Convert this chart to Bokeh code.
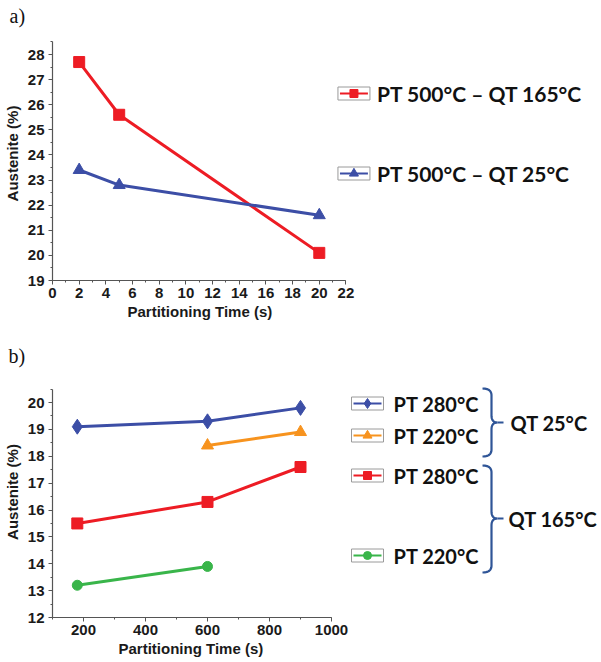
from bokeh.plotting import figure
from bokeh.layouts import column
from bokeh.models import Range1d, SingleIntervalTicker, Title
from bokeh.core.properties import value
from bokeh.embed import file_html
from bokeh.resources import INLINE

# ---------------- data: panel a ----------------
a_time = [2, 5, 20]
a_qt165 = [27.7, 25.6, 20.1]
a_qt25 = [23.4, 22.8, 21.6]
a_labels = ["PT 500°C – QT 165°C", "PT 500°C – QT 25°C"]

# ---------------- data: panel b ----------------
b_time_280_25 = [180, 600, 900]
b_pt280_qt25 = [19.1, 19.3, 19.8]
b_time_220_25 = [600, 900]
b_pt220_qt25 = [18.4, 18.9]
b_time_280_165 = [180, 600, 900]
b_pt280_qt165 = [15.5, 16.3, 17.6]
b_time_220_165 = [180, 600]
b_pt220_qt165 = [13.2, 13.9]
b_labels = ["PT 280°C", "PT 220°C", "PT 280°C", "PT 220°C"]
b_groups = ["QT 25°C", "QT 165°C"]

x_title = "Partitioning Time (s)"
y_title = "Austenite (%)"

RED = "#ed1c24"
BLUE = "#3c4ea6"
ORANGE = "#f7931e"
GREEN = "#39b54a"
BRACE = "#2f5597"
AXIS = "#555555"
TXT = "#111111"

W, H = 601, 331
TICK_FONT = "Liberation Sans"
LEG_FONT = "Lato"


def panel(x0, xpx0, xscale, y0, ypx0, yscale, page_off, frame_top, xbounds, ybounds,
          xint, yint, tag, title_offset):
    # xpx0: page px of x0 (frame left); ypx0: page px of y0 (frame bottom)
    frame_bottom = ypx0 - page_off
    ftop = frame_top - page_off
    xr = Range1d(x0, x0 + (W - xpx0) / xscale)
    yr = Range1d(y0, y0 + (frame_bottom - ftop) / yscale)
    p = figure(width=W, height=H, x_range=xr, y_range=yr,
               min_border_left=xpx0, min_border_right=0, min_border_top=ftop,
               min_border_bottom=H - frame_bottom,
               output_backend="svg", toolbar_location=None)
    p.outline_line_color = None
    p.grid.visible = False
    p.background_fill_color = "white"
    p.border_fill_color = "white"
    p.xaxis.bounds = xbounds
    p.yaxis.bounds = ybounds
    p.xaxis.ticker = SingleIntervalTicker(interval=xint, num_minor_ticks=2)
    p.yaxis.ticker = SingleIntervalTicker(interval=yint, num_minor_ticks=2)
    for ax in (p.xaxis[0], p.yaxis[0]):
        ax.axis_line_color = AXIS
        ax.axis_line_width = 1.2
        ax.major_tick_line_color = AXIS
        ax.minor_tick_line_color = AXIS
        ax.major_tick_in = 0
        ax.major_tick_out = 4
        ax.minor_tick_in = 0
        ax.minor_tick_out = 2
        ax.major_label_text_font = TICK_FONT
        ax.major_label_text_font_style = "bold"
        ax.major_label_text_font_size = "15px"
        ax.major_label_text_color = "#1a1a1a"
        ax.axis_label_text_font = TICK_FONT
        ax.axis_label_text_font_style = "bold"
        ax.axis_label_text_font_size = "15px"
        ax.axis_label_text_color = "#1a1a1a"
    p.xaxis.major_label_standoff = 3
    p.yaxis.major_label_standoff = 4
    p.yaxis.axis_label_standoff = 4
    p.yaxis.axis_label = y_title

    p.add_layout(Title(text=tag, align="left", offset=8 - xpx0, standoff=0,
                       text_font="Liberation Serif", text_font_size="20px",
                       text_font_style="normal", text_color=TXT), "above")
    p.add_layout(Title(text=x_title, align="left", offset=title_offset, standoff=0,
                       text_font=TICK_FONT, text_font_size="15px",
                       text_font_style="bold", text_color="#1a1a1a"), "below")

    def dx(px):
        return x0 + (px - xpx0) / xscale

    def dy(py):
        return y0 + (ypx0 - py) / yscale

    return p, dx, dy


def legend_sample(p, dx, dy, cx, cy, color, marker, msize):
    p.rect(x=[dx(cx)], y=[dy(cy)], width=32, height=13, width_units="screen",
           height_units="screen", fill_color="white", line_color="#9a9a9a", line_width=1)
    p.line([dx(cx - 14), dx(cx + 14)], [dy(cy), dy(cy)], line_color=color, line_width=2)
    p.scatter([dx(cx)], [dy(cy)], marker=marker, size=msize, fill_color=color, line_color=color)


def quad(pa, pc, pb, n=14):
    pts = []
    for i in range(n + 1):
        t = i / n
        x = (1 - t) ** 2 * pa[0] + 2 * (1 - t) * t * pc[0] + t ** 2 * pb[0]
        y = (1 - t) ** 2 * pa[1] + 2 * (1 - t) * t * pc[1] + t ** 2 * pb[1]
        pts.append((x, y))
    return pts


def brace(p, dx, dy, x_hook, x_mid, x_cusp, x_tip, y_top, y_tip, y_bot, r=7):
    pts = []
    pts += quad((x_hook, y_top), (x_mid, y_top), (x_mid, y_top + r))
    pts += quad((x_mid, y_tip - r), (x_mid, y_tip), (x_cusp, y_tip))
    pts += quad((x_cusp, y_tip), (x_mid, y_tip), (x_mid, y_tip + r))
    pts += quad((x_mid, y_bot - r), (x_mid, y_bot), (x_hook, y_bot))
    p.line([dx(a) for a, b in pts], [dy(b) for a, b in pts], line_color=BRACE, line_width=2.2)
    p.line([dx(x_cusp), dx(x_tip)], [dy(y_tip), dy(y_tip)], line_color=BRACE, line_width=2.2)


# ---------------- panel a ----------------
pa, ax_, ay_ = panel(0, 51, 294 / 22, 19, 280, 226 / 9, 0, 26, (0, 22), (19, 28.5), 2, 1,
                     "a)", 75)
pa.line(a_time, a_qt165, line_color=RED, line_width=3)
pa.scatter(a_time, a_qt165, marker="square", size=11, fill_color=RED, line_color=RED)
pa.line(a_time, a_qt25, line_color=BLUE, line_width=3)
pa.scatter(a_time, a_qt25, marker="triangle", size=12, fill_color=BLUE, line_color=BLUE)

legend_sample(pa, ax_, ay_, 353, 93, RED, "square", 8)
legend_sample(pa, ax_, ay_, 353, 173, BLUE, "triangle", 9)
pa.text(x=[ax_(376), ax_(376)], y=[ay_(93), ay_(173)], text=a_labels,
        text_font=value(LEG_FONT), text_font_style="bold", text_font_size="21px",
        text_baseline="middle", text_align="left", text_color=TXT)

# ---------------- panel b ----------------
pb, bx_, by_ = panel(100, 52, 279 / 900, 12, 617, 215 / 8, 331, 366, (100, 1000), (12, 20.5),
                     200, 1, "b)", 66)
pb.line(b_time_280_25, b_pt280_qt25, line_color=BLUE, line_width=3)
pb.scatter(b_time_280_25, b_pt280_qt25, marker="diamond", size=15, fill_color=BLUE, line_color=BLUE)
pb.line(b_time_220_25, b_pt220_qt25, line_color=ORANGE, line_width=3)
pb.scatter(b_time_220_25, b_pt220_qt25, marker="triangle", size=12, fill_color=ORANGE, line_color=ORANGE)
pb.line(b_time_280_165, b_pt280_qt165, line_color=RED, line_width=3)
pb.scatter(b_time_280_165, b_pt280_qt165, marker="square", size=11, fill_color=RED, line_color=RED)
pb.line(b_time_220_165, b_pt220_qt165, line_color=GREEN, line_width=3)
pb.scatter(b_time_220_165, b_pt220_qt165, marker="circle", size=10, fill_color=GREEN, line_color=GREEN)

leg_y = [403, 435, 475, 555]
leg_c = [BLUE, ORANGE, RED, GREEN]
leg_m = [("diamond", 10), ("triangle", 9), ("square", 8), ("circle", 8)]
for yy, cc, (mm, ms) in zip(leg_y, leg_c, leg_m):
    legend_sample(pb, bx_, by_, 367, yy, cc, mm, ms)
pb.text(x=[bx_(393)] * 4, y=[by_(v) for v in leg_y], text=b_labels,
        text_font=value(LEG_FONT), text_font_style="bold", text_font_size="20px",
        text_baseline="middle", text_align="left", text_color=TXT)
brace(pb, bx_, by_, 482, 491, 497, 503, 388, 422, 456)
brace(pb, bx_, by_, 482, 491, 497, 503, 465, 518, 572)
pb.text(x=[bx_(510), bx_(508)], y=[by_(422), by_(518)], text=b_groups,
        text_font=value(LEG_FONT), text_font_style="bold", text_font_size="20px",
        text_baseline="middle", text_align="left", text_color=TXT)

layout = column(pa, pb, spacing=0)
open("out.html", "w").write(file_html(layout, INLINE))
